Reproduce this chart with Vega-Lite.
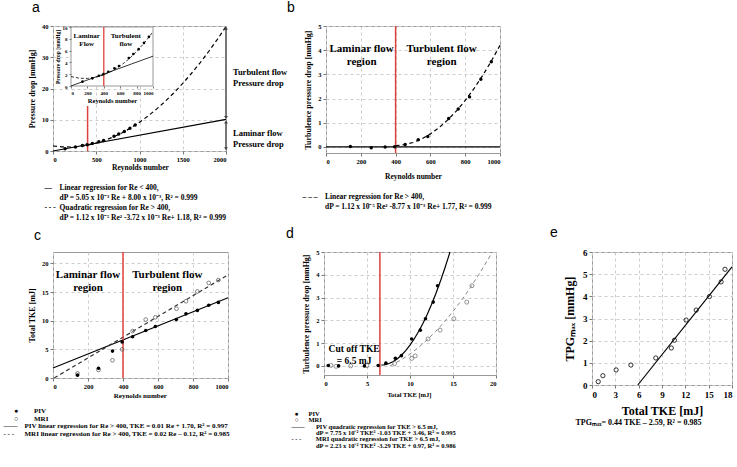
{
"$schema":"https://vega.github.io/schema/vega-lite/v6.json",
"padding":{"left":2,"top":0,"right":0,"bottom":0},
"background":"white",
"config":{
 "view":{"stroke":"#999","strokeWidth":1},
 "axis":{"labelFont":"Liberation Serif","labelFontWeight":"bold","labelFontSize":6.5,"labelColor":"#000","titleFont":"Liberation Serif","titleFontWeight":"bold","titleFontSize":8,"titleColor":"#000","gridDash":[3,3],"gridColor":"#cccccc","domain":false,"tickColor":"#777","tickSize":3,"labelPadding":2,"titlePadding":5},
 "title":{"font":"Liberation Sans","fontWeight":"normal","fontSize":14,"color":"#000","anchor":"start","frame":"group","offset":8},
 "text":{"font":"Liberation Serif","fontWeight":"bold","color":"#000"},
 "line":{"color":"#000","strokeWidth":1.2},
 "point":{"color":"#000","opacity":1}
},
"datasets":{
 "a_pts":[{"Re":140,"dP":0.74},{"Re":260,"dP":1.3},{"Re":340,"dP":1.73},{"Re":395,"dP":2.01},{"Re":455,"dP":2.41},{"Re":530,"dP":2.99},{"Re":585,"dP":3.39},{"Re":705,"dP":4.75},{"Re":760,"dP":5.42},{"Re":825,"dP":6.24},{"Re":890,"dP":7.3},{"Re":950,"dP":8.33}],
 "a_quad":[{"Re":0,"dP":1.6},{"Re":100,"dP":1.325},{"Re":200,"dP":1.28},{"Re":300,"dP":1.465},{"Re":400,"dP":1.88},{"Re":500,"dP":2.525},{"Re":600,"dP":3.4},{"Re":700,"dP":4.505},{"Re":800,"dP":5.84},{"Re":900,"dP":7.405},{"Re":1000,"dP":9.2},{"Re":1100,"dP":11.225},{"Re":1200,"dP":13.48},{"Re":1300,"dP":15.965},{"Re":1400,"dP":18.68},{"Re":1500,"dP":21.625},{"Re":1600,"dP":24.8},{"Re":1700,"dP":28.205},{"Re":1800,"dP":31.84},{"Re":1900,"dP":35.705},{"Re":2000,"dP":39.8}],
 "b_pts":[{"Re":140,"dP":0.02},{"Re":260,"dP":-0.03},{"Re":340,"dP":0.0},{"Re":395,"dP":0.01},{"Re":455,"dP":0.1},{"Re":530,"dP":0.3},{"Re":585,"dP":0.43},{"Re":705,"dP":1.18},{"Re":760,"dP":1.57},{"Re":825,"dP":2.07},{"Re":890,"dP":2.8},{"Re":950,"dP":3.52}],
 "b_quad":[{"Re":400,"dP":0.054},{"Re":450,"dP":0.0915},{"Re":500,"dP":0.185},{"Re":550,"dP":0.3345},{"Re":600,"dP":0.54},{"Re":650,"dP":0.8015},{"Re":700,"dP":1.119},{"Re":750,"dP":1.4925},{"Re":800,"dP":1.922},{"Re":850,"dP":2.4075},{"Re":900,"dP":2.949},{"Re":950,"dP":3.5465},{"Re":1000,"dP":4.2}],
 "c_piv":[{"Re":140,"TKE":0.5},{"Re":260,"TKE":1.7},{"Re":340,"TKE":4.7},{"Re":395,"TKE":6.3},{"Re":455,"TKE":7.2},{"Re":530,"TKE":8.3},{"Re":585,"TKE":9.0},{"Re":705,"TKE":10.2},{"Re":760,"TKE":11.2},{"Re":825,"TKE":11.8},{"Re":890,"TKE":12.7},{"Re":945,"TKE":13.2}],
 "c_mri":[{"Re":140,"TKE":0.8},{"Re":260,"TKE":1.4},{"Re":340,"TKE":3.1},{"Re":395,"TKE":5.0},{"Re":455,"TKE":8.2},{"Re":530,"TKE":10.2},{"Re":585,"TKE":10.6},{"Re":705,"TKE":12.1},{"Re":760,"TKE":13.4},{"Re":825,"TKE":15.1},{"Re":890,"TKE":16.6},{"Re":945,"TKE":17.1}],
 "d_piv":[{"TKE":0.5,"dP":0.02},{"TKE":1.7,"dP":0.0},{"TKE":4.7,"dP":0.0},{"TKE":6.3,"dP":0.02},{"TKE":7.2,"dP":0.12},{"TKE":8.3,"dP":0.33},{"TKE":9.0,"dP":0.45},{"TKE":10.2,"dP":1.18},{"TKE":11.2,"dP":1.57},{"TKE":11.8,"dP":2.07},{"TKE":12.7,"dP":2.8},{"TKE":13.2,"dP":3.52}],
 "d_mri":[{"TKE":0.8,"dP":0.02},{"TKE":1.4,"dP":-0.02},{"TKE":3.1,"dP":0.0},{"TKE":5.0,"dP":0.01},{"TKE":8.2,"dP":0.1},{"TKE":10.2,"dP":0.33},{"TKE":10.6,"dP":0.44},{"TKE":12.1,"dP":1.18},{"TKE":13.5,"dP":1.57},{"TKE":15.1,"dP":2.07},{"TKE":16.6,"dP":2.8},{"TKE":17.2,"dP":3.52}],
 "d_piv_fit":[{"TKE":6.65,"dP":0.038},{"TKE":7,"dP":0.0475},{"TKE":7.5,"dP":0.0944},{"TKE":8,"dP":0.18},{"TKE":8.5,"dP":0.3044},{"TKE":9,"dP":0.4675},{"TKE":9.5,"dP":0.6694},{"TKE":10,"dP":0.91},{"TKE":10.5,"dP":1.1894},{"TKE":11,"dP":1.5075},{"TKE":11.5,"dP":1.8644},{"TKE":12,"dP":2.26},{"TKE":12.5,"dP":2.6944},{"TKE":13,"dP":3.1675},{"TKE":13.5,"dP":3.6794},{"TKE":14,"dP":4.23},{"TKE":14.5,"dP":4.8194},{"TKE":14.65,"dP":5.0}],
 "d_mri_fit":[{"TKE":7.7,"dP":0.007},{"TKE":8,"dP":0.0616},{"TKE":9,"dP":0.2704},{"TKE":10,"dP":0.5205},{"TKE":11,"dP":0.8118},{"TKE":12,"dP":1.1445},{"TKE":13,"dP":1.5183},{"TKE":14,"dP":1.933},{"TKE":15,"dP":2.3895},{"TKE":16,"dP":2.887},{"TKE":17,"dP":3.4255},{"TKE":18,"dP":4.006},{"TKE":19,"dP":4.627},{"TKE":19.6,"dP":5.0}],
 "e_pts":[{"TKE":0.8,"TPG":0.15},{"TKE":1.4,"TPG":0.42},{"TKE":3.1,"TPG":0.68},{"TKE":5.0,"TPG":0.9},{"TKE":8.2,"TPG":1.22},{"TKE":10.2,"TPG":1.67},{"TKE":10.6,"TPG":2.02},{"TKE":12.1,"TPG":2.93},{"TKE":13.4,"TPG":3.38},{"TKE":15.1,"TPG":3.99},{"TKE":16.6,"TPG":4.65},{"TKE":17.1,"TPG":5.22}]
},
"bounds":"flush",
"spacing":226,
"vconcat":[
 {"bounds":"flush","spacing":100,
  "hconcat":[
   {"title":{"text":"a","dx":-21},
    "width":173,"height":125,
    "resolve":{"scale":{"x":"independent","y":"independent"},"axis":{"x":"independent","y":"independent"}},
    "layer":[
     {"encoding":{
       "x":{"field":"Re","type":"quantitative","scale":{"domain":[0,2000],"nice":false},"axis":{"values":[0,500,1000,1500,2000],"format":"d","title":["\u200b\u00a0\u00a0\u00a0\u00a0\u00a0\u00a0\u00a0\u00a0\u00a0\u00a0\u00a0\u00a0\u00a0\u00a0\u00a0\u00a0\u00a0\u00a0\u00a0\u00a0\u00a0\u00a0\u00a0\u00a0\u00a0\u00a0\u00a0\u00a0\u00a0\u00a0\u00a0\u00a0\u00a0\u00a0\u00a0\u00a0Reynolds number","\u200b","\u2014\u00a0\u00a0\u00a0\u00a0Linear regression for Re < 400,","\u200b\u00a0\u00a0\u00a0\u00a0\u00a0\u00a0\u00a0\u00a0dP = 5.05 x 10\u207b\u00b3 Re + 8.00 x 10\u207b\u00b3, R\u00b2 = 0.999","- - -\u00a0\u00a0Quadratic regression for Re > 400,","\u200b\u00a0\u00a0\u00a0\u00a0\u00a0\u00a0\u00a0\u00a0dP = 1.12 x 10\u207b\u2075 Re\u00b2 -3.72 x 10\u207b\u00b3 Re+ 1.18, R\u00b2 = 0.999"],"titleAlign":"left","titleAnchor":"start","titleBaseline":"top","titleX":-9,"titleY":12,"titleFontSize":7.5,"titleLineHeight":10}},
       "y":{"field":"dP","type":"quantitative","scale":{"domain":[0,40],"nice":false},"axis":{"values":[0,10,20,30,40],"format":"d","title":"Pressure drop [mmHg]"}}
      },
      "layer":[
       {"data":{"values":[{"Re":0,"dP":0.008},{"Re":2000,"dP":10.108}]},"mark":{"type":"line"}},
       {"data":{"name":"a_quad"},"mark":{"type":"line","strokeDash":[4,3]}},
       {"data":{"values":[{"Re":400,"dP":0,"dP2":14.4}]},"mark":{"type":"rule","color":"#e0403c","strokeWidth":1.5},"encoding":{"y2":{"field":"dP2"}}},
       {"data":{"name":"a_pts"},"mark":{"type":"point","filled":true,"size":12,"shape":"circle"}},
       {"data":{"values":[{"Re":2000,"dP":10.8,"dP2":39.2},{"Re":2000,"dP":0.8,"dP2":9.2}]},"mark":{"type":"rule","color":"#777","strokeWidth":2,"clip":false},"encoding":{"y2":{"field":"dP2"}}},
       {"data":{"values":[{"Re":2000,"dP":39.3,"dir":"up"},{"Re":2000,"dP":10.7,"dir":"down"},{"Re":2000,"dP":9.3,"dir":"up"},{"Re":2000,"dP":0.7,"dir":"down"}]},"mark":{"type":"point","filled":true,"size":14,"color":"#444","clip":false},"encoding":{"shape":{"field":"dir","type":"nominal","scale":{"domain":["up","down"],"range":["triangle-up","triangle-down"]},"legend":null}}},
       {"data":{"values":[{"Re":2000,"dP":25.4,"label":["Turbulent flow","Pressure drop"]},{"Re":2000,"dP":5.7,"label":["Laminar flow","Pressure drop"]}]},"mark":{"type":"text","align":"left","dx":7,"fontSize":8.5,"lineHeight":11},"encoding":{"text":{"field":"label","type":"nominal"}}}
      ]},
     {"encoding":{
       "x":{"field":"Re","type":"quantitative","scale":{"domain":[0,1000],"nice":false,"range":[18,100]},"axis":{"orient":"bottom","offset":-65,"values":[0,200,400,600,800,1000],"format":"d","labelFontSize":5,"title":"Reynolds number","titleFontSize":6.5,"titlePadding":2,"tickSize":2,"grid":false,"zindex":1}},
       "y":{"field":"dP","type":"quantitative","scale":{"domain":[0,10],"nice":false,"range":[60,1]},"axis":{"orient":"left","offset":-18,"values":[0,2,4,6,8,10],"format":"d","labelFontSize":5,"title":"Pressure drop [mmHg]","titleFontSize":5.5,"titlePadding":2,"tickSize":2,"grid":false,"zindex":1}}
      },
      "layer":[
       {"data":{"values":[{"Re":0,"Re2":1000,"dP":0,"dP2":10}]},"mark":{"type":"rect","fill":"white","stroke":"#999","strokeWidth":1},"encoding":{"x2":{"field":"Re2"},"y2":{"field":"dP2"}}},
       {"data":{"values":[{"Re":0,"dP":0.008},{"Re":1000,"dP":5.058}]},"mark":{"type":"line","strokeWidth":0.8}},
       {"data":{"name":"a_quad"},"transform":[{"filter":"datum.Re <= 1000"}],"mark":{"type":"line","strokeDash":[3,2],"strokeWidth":0.8}},
       {"data":{"values":[{"Re":400,"dP":0,"dP2":10}]},"mark":{"type":"rule","color":"#e0403c","strokeWidth":1.3},"encoding":{"y2":{"field":"dP2"}}},
       {"data":{"name":"a_pts"},"mark":{"type":"point","filled":true,"size":7,"shape":"circle"}},
       {"data":{"values":[{"Re":192,"dP":8.5,"label":["Laminar","Flow"]},{"Re":669,"dP":8.5,"label":["Turbulent","flow"]}]},"mark":{"type":"text","fontSize":7,"lineHeight":8},"encoding":{"text":{"field":"label","type":"nominal"}}}
      ]}
    ]},
   {"title":{"text":"b","dx":-39},
    "width":174,"height":127,
    "encoding":{
     "x":{"field":"Re","type":"quantitative","scale":{"domain":[0,1000],"nice":false},"axis":{"values":[0,200,400,600,800,1000],"format":"d","title":["\u200b\u00a0\u00a0\u00a0\u00a0\u00a0\u00a0\u00a0\u00a0\u00a0\u00a0\u00a0\u00a0\u00a0\u00a0\u00a0\u00a0\u00a0\u00a0\u00a0\u00a0\u00a0\u00a0\u00a0\u00a0\u00a0\u00a0\u00a0\u00a0\u00a0\u00a0\u00a0\u00a0\u00a0\u00a0\u00a0\u00a0\u00a0\u00a0\u00a0\u00a0\u00a0\u00a0\u00a0\u00a0Reynolds number","\u200b","\u2013 \u2013 \u2013\u00a0\u00a0\u00a0\u00a0Linear regression for Re > 400,","\u200b\u00a0\u00a0\u00a0\u00a0\u00a0\u00a0\u00a0\u00a0\u00a0\u00a0\u00a0\u00a0dP = 1.12 x 10\u207b\u2075 Re\u00b2 -8.77 x 10\u207b\u00b3 Re+ 1.77, R\u00b2 = 0.999"],"titleAlign":"left","titleAnchor":"start","titleBaseline":"top","titleX":-24,"titleY":19,"titleFontSize":7.5,"titleLineHeight":10}},
     "y":{"field":"dP","type":"quantitative","scale":{"domain":[-0.25,5],"nice":false},"axis":{"values":[0,1,2,3,4,5],"format":"d","title":"Turbulence pressure drop [mmHg]"}}
    },
    "layer":[
     {"data":{"values":[{"Re":0,"dP":0},{"Re":1000,"dP":0}]},"mark":{"type":"line"}},
     {"data":{"values":[{"Re":400,"dP":-0.25,"dP2":5}]},"mark":{"type":"rule","color":"#e0403c","strokeWidth":1.5},"encoding":{"y2":{"field":"dP2"}}},
     {"data":{"name":"b_quad"},"mark":{"type":"line","strokeDash":[4,3]}},
     {"data":{"name":"b_pts"},"mark":{"type":"point","filled":true,"size":12,"shape":"circle"}},
     {"data":{"values":[{"Re":205,"dP":4.06,"label":["Laminar flow","region"]},{"Re":665,"dP":4.06,"label":["Turbulent flow","region"]}]},"mark":{"type":"text","fontSize":11,"lineHeight":13},"encoding":{"text":{"field":"label","type":"nominal"}}}
    ]}
  ]},
 {"bounds":"flush","spacing":96,
  "hconcat":[
   {"title":{"text":"c","dx":-19},
    "width":175,"height":126,
    "encoding":{
     "x":{"field":"Re","type":"quantitative","scale":{"domain":[0,1000],"nice":false},"axis":{"values":[0,200,400,600,800,1000],"format":"d","title":["\u200b\u00a0\u00a0\u00a0\u00a0\u00a0\u00a0\u00a0\u00a0\u00a0\u00a0\u00a0\u00a0\u00a0\u00a0\u00a0\u00a0\u00a0\u00a0\u00a0\u00a0\u00a0\u00a0\u00a0\u00a0\u00a0\u00a0\u00a0\u00a0\u00a0\u00a0\u00a0\u00a0\u00a0\u00a0\u00a0\u00a0\u00a0\u00a0\u00a0\u00a0\u00a0\u00a0\u00a0\u00a0\u00a0\u00a0\u00a0\u00a0\u00a0\u00a0\u00a0\u00a0\u00a0\u00a0\u00a0\u00a0\u00a0\u00a0\u00a0\u00a0\u00a0\u00a0\u00a0Reynolds number","\u200b","\u200b\u00a0\u00a0\u00a0\u00a0\u00a0\u00a0\u25cf\u00a0\u00a0\u00a0\u00a0\u00a0\u00a0\u00a0\u00a0\u00a0PIV","\u200b\u00a0\u00a0\u00a0\u00a0\u00a0\u00a0\u25cb\u00a0\u00a0\u00a0\u00a0\u00a0\u00a0\u00a0\u00a0\u00a0MRI","\u2014\u2014\u00a0\u00a0\u00a0\u00a0PIV linear regression for Re > 400, TKE = 0.01 Re + 1.70, R\u00b2 = 0.997","- - -\u00a0\u00a0\u00a0\u00a0\u00a0\u00a0MRI linear regression for Re > 400, TKE = 0.02 Re \u2013 0.12, R\u00b2 = 0.985"],"titleAlign":"left","titleAnchor":"start","titleBaseline":"top","titleX":-50,"titleY":13.5,"titleFontSize":7,"titleLineHeight":7.5}},
     "y":{"field":"TKE","type":"quantitative","scale":{"domain":[0,22],"nice":false},"axis":{"values":[0,5,10,15,20],"format":"d","title":"Total TKE [mJ]"}}
    },
    "layer":[
     {"data":{"values":[{"Re":0,"TKE":1.75},{"Re":1000,"TKE":14.0}]},"mark":{"type":"line"}},
     {"data":{"values":[{"Re":6.6,"TKE":0},{"Re":1000,"TKE":18.0}]},"mark":{"type":"line","strokeDash":[4,3],"color":"#333"}},
     {"data":{"values":[{"Re":400,"TKE":0,"TKE2":22}]},"mark":{"type":"rule","color":"#e0403c","strokeWidth":1.5},"encoding":{"y2":{"field":"TKE2"}}},
     {"data":{"name":"c_mri"},"mark":{"type":"point","filled":false,"size":14,"shape":"circle","color":"#666","strokeWidth":0.8}},
     {"data":{"name":"c_piv"},"mark":{"type":"point","filled":true,"size":13,"shape":"circle"}},
     {"data":{"values":[{"Re":200,"TKE":18.0,"label":["Laminar flow","region"]},{"Re":653,"TKE":18.0,"label":["Turbulent flow","region"]}]},"mark":{"type":"text","fontSize":11,"lineHeight":13},"encoding":{"text":{"field":"label","type":"nominal"}}}
    ]},
   {"title":{"text":"d","dx":-38},
    "width":172,"height":123,
    "encoding":{
     "x":{"field":"TKE","type":"quantitative","scale":{"domain":[0,20],"nice":false},"axis":{"values":[0,5,10,15,20],"format":"d","title":["\u200b\u00a0\u00a0\u00a0\u00a0\u00a0\u00a0\u00a0\u00a0\u00a0\u00a0\u00a0\u00a0\u00a0\u00a0\u00a0\u00a0\u00a0\u00a0\u00a0\u00a0\u00a0\u00a0\u00a0\u00a0\u00a0\u00a0\u00a0\u00a0\u00a0\u00a0\u00a0\u00a0\u00a0\u00a0\u00a0\u00a0\u00a0\u00a0\u00a0\u00a0\u00a0\u00a0\u00a0\u00a0\u00a0\u00a0\u00a0\u00a0\u00a0\u00a0\u00a0\u00a0\u00a0\u00a0\u00a0\u00a0\u00a0\u00a0\u00a0Total TKE [mJ]","\u200b","\u200b","\u200b\u00a0\u00a0\u25cf\u00a0\u00a0\u00a0\u00a0\u00a0\u00a0PIV","\u200b\u00a0\u00a0\u25cb\u00a0\u00a0\u00a0\u00a0\u00a0\u00a0MRI","\u2014\u2014\u00a0\u00a0\u00a0\u00a0\u00a0\u00a0\u00a0PIV quadratic regression for TKE > 6.5 mJ,","\u200b\u00a0\u00a0\u00a0\u00a0\u00a0\u00a0\u00a0\u00a0\u00a0\u00a0\u00a0\u00a0\u00a0\u00a0\u00a0dP = 7.75 x 10\u207b\u00b2 TKE\u00b2 -1.03 TKE + 3.46, R\u00b2 = 0.995","- - -\u00a0\u00a0\u00a0\u00a0\u00a0\u00a0\u00a0\u00a0\u00a0MRI quadratic regression for TKE > 6.5 mJ,","\u200b\u00a0\u00a0\u00a0\u00a0\u00a0\u00a0\u00a0\u00a0\u00a0\u00a0\u00a0\u00a0\u00a0\u00a0\u00a0dP = 2.23 x 10\u207b\u00b2 TKE\u00b2 -3.29 TKE + 0.97, R\u00b2 = 0.986"],"titleAlign":"left","titleAnchor":"start","titleBaseline":"top","titleX":-33,"titleY":16,"titleFontSize":6.5,"titleLineHeight":6.4}},
     "y":{"field":"dP","type":"quantitative","scale":{"domain":[-0.4,5],"nice":false},"axis":{"values":[0,1,2,3,4,5],"format":"d","title":"Turbulence pressure drop [mmHg]"}}
    },
    "layer":[
     {"data":{"values":[{"TKE":6.5,"dP":-0.4,"dP2":5}]},"mark":{"type":"rule","color":"#e0403c","strokeWidth":1.5},"encoding":{"y2":{"field":"dP2"}}},
     {"data":{"name":"d_mri_fit"},"mark":{"type":"line","strokeDash":[4,3],"color":"#888","strokeWidth":1}},
     {"data":{"name":"d_piv_fit"},"mark":{"type":"line"}},
     {"data":{"name":"d_mri"},"mark":{"type":"point","filled":false,"size":16,"shape":"circle","color":"#777","strokeWidth":0.8}},
     {"data":{"name":"d_piv"},"mark":{"type":"point","filled":true,"size":13,"shape":"circle"}},
     {"data":{"values":[{"TKE":3.5,"dP":0.72,"label":["Cut off TKE","= 6.5 mJ"]}]},"mark":{"type":"text","fontSize":9.5,"lineHeight":12},"encoding":{"text":{"field":"label","type":"nominal"}}}
    ]},
   {"title":{"text":"e","dx":-42},
    "width":140,"height":133,
    "resolve":{"axis":{"x":"independent"}},
    "encoding":{
     "y":{"field":"TPG","type":"quantitative","scale":{"domain":[0,6],"nice":false},"axis":{"values":[0,1,2,3,4,5,6],"format":"d","title":"TPG\u2098\u2090\u2093 [mmHg]","labelFontSize":9,"titleFontSize":12,"titlePadding":6}}
    },
    "layer":[
     {"data":{"values":[{"TKE":5.89,"TPG":0},{"TKE":18,"TPG":5.33}]},"mark":{"type":"line"},
      "encoding":{"x":{"field":"TKE","type":"quantitative","scale":{"domain":[0,18],"nice":false},"axis":{"values":[0,3,6,9,12,15,18],"format":"d","title":"Total TKE [mJ]","labelFontSize":9,"titleFontSize":12,"titlePadding":6}}}},
     {"data":{"name":"e_pts"},"mark":{"type":"point","filled":false,"size":18,"shape":"circle","color":"#000","strokeWidth":0.8},
      "encoding":{"x":{"field":"TKE","type":"quantitative","axis":{"orient":"bottom","labels":false,"ticks":false,"domain":false,"grid":false,"title":"TPG\u2098\u2090\u2093= 0.44 TKE \u2013 2.59, R\u00b2 = 0.985","titleFontSize":8,"titleX":46,"titleY":33,"titleAlign":"center","titleBaseline":"top"}}}}
    ]}
  ]}
]
}
